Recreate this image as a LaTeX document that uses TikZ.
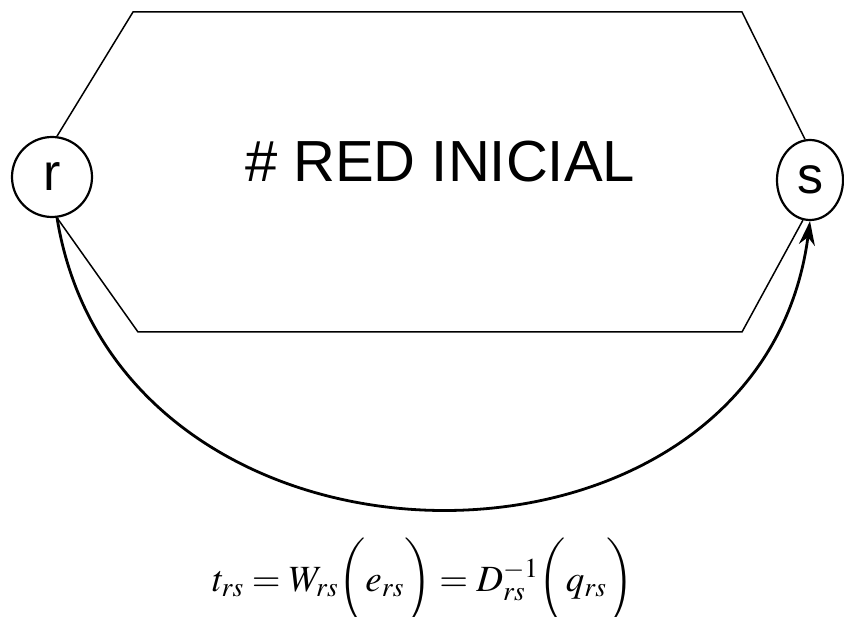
\documentclass[tikz,border=0pt]{standalone}
\usepackage{mathptmx}
\usepackage{fontspec}
\setmainfont{Liberation Sans}
\usetikzlibrary{shapes.geometric,arrows.meta}
\begin{document}
\begin{tikzpicture}[x=1pt,y=-1pt,
  edge/.style={line width=1.5pt},
  nodecirc/.style={draw,line width=2.2pt,font=\fontsize{52}{56}\selectfont,inner sep=0pt},
  arcline/.style={line width=2.8pt,-{Stealth[length=24pt,width=16pt]}}]
\useasboundingbox (0,0) rectangle (844,617);
\node[nodecirc,circle,minimum size=80pt] (r) at (52,177) {r};
\node[nodecirc,ellipse,minimum width=66pt,minimum height=80pt] (s) at (810,180) {s};
\coordinate (tl) at (133,12);
\coordinate (tr) at (742,12);
\coordinate (bl) at (138,332);
\coordinate (br) at (742,332);
\draw[edge] (r.83) -- (tl) -- (tr) -- (s.97);
\draw[edge] (r.-83) -- (bl) -- (br) -- (s.-100);
\node[font=\fontsize{58}{64}\selectfont] (title) at (440,162) {\# RED INICIAL};
\draw[arcline] (r.-83) .. controls (120,605) and (760,605) .. (s.-90);
\node[font=\fontsize{37}{44}\selectfont] (formula) at (423,582)
  {$t_{rs} = W_{rs}\biggl(e_{rs}\biggr) = D^{-1}_{rs}\biggl(q_{rs}\biggr)$};
\end{tikzpicture}
\end{document}
